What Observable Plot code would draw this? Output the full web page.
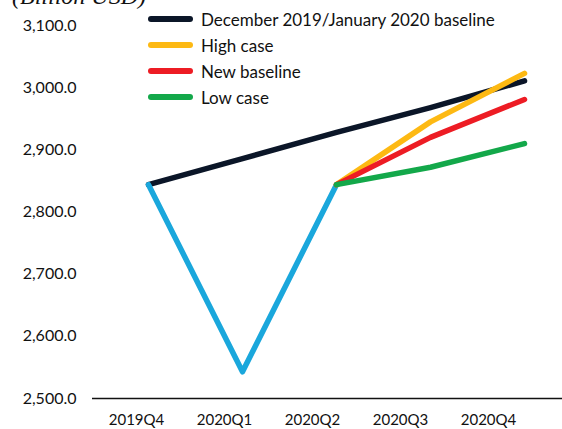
<!DOCTYPE html>
<html>
<head>
<meta charset="utf-8">
<script src="https://cdn.jsdelivr.net/npm/d3@7"></script>
<script src="https://cdn.jsdelivr.net/npm/@observablehq/plot@0.6"></script>
<style>
  html, body { margin: 0; padding: 0; background: #fff; }
  #wrap { position: relative; width: 562px; height: 429px; overflow: hidden; font-family: Lato, "Open Sans", sans-serif; }
  #title { position: absolute; left: 12px; top: -19px; font-family: "Liberation Serif", serif; font-style: italic; font-size: 24px; line-height: 30px; color: #111; white-space: nowrap; }
  #legend { position: absolute; left: 148px; top: 0; }
  .item { position: absolute; left: 0; height: 20px; display: flex; align-items: center; white-space: nowrap; font-size: 17px; color: #111; }
  .sw { display: inline-block; width: 45px; height: 6px; border-radius: 3px; margin-right: 8px; }
  .layer { position: absolute; left: 0; top: 0; }
</style>
</head>
<body>
<div id="wrap">
  <div id="axes" class="layer"></div>
  <div id="lines" class="layer"></div>
  <div id="title">(Billion USD)</div>
  <div id="legend"></div>
</div>
<script>
const quarters = ["2019Q4", "2020Q1", "2020Q2", "2020Q3", "2020Q4"];
const yTicks = [2500, 2600, 2700, 2800, 2900, 3000, 3100];

const actualQuarters = ["2019Q4", "2020Q1", "2020Q2"];
const actualValues = [2844, 2543, 2844];

const decBaselineValues = [2844, 2886, 2928, 2968, 3011];

const scenarioQuarters = ["2020Q2", "2020Q3", "2020Q4"];
const highValues = [2844, 2945, 3023];
const newBaselineValues = [2844, 2920, 2981];
const lowValues = [2844, 2872, 2910];

const seriesNames = ["December 2019/January 2020 baseline", "High case", "New baseline", "Low case"];
const seriesColors = ["#0b1628", "#fdb913", "#ed1c24", "#13a84a"];
const actualColor = "#1aa7dc";

const rows = (qs, vs, name) => qs.map((q, i) => ({quarter: q, value: vs[i], series: name}));

const decData = rows(quarters, decBaselineValues, seriesNames[0]);
const actualData = rows(actualQuarters, actualValues, "Actual");
const highData = rows(scenarioQuarters, highValues, seriesNames[1]);
const newData = rows(scenarioQuarters, newBaselineValues, seriesNames[2]);
const lowData = rows(scenarioQuarters, lowValues, seriesNames[3]);

const common = {
  width: 562,
  height: 429,
  marginLeft: 92,
  marginRight: 0,
  marginTop: 25,
  marginBottom: 31,
  style: { fontFamily: "Lato, 'Open Sans', sans-serif", color: "#111", background: "transparent" }
};

// Axis layer: category labels centred in bands as in the original
const axes = Plot.plot({
  ...common,
  x: { type: "point", domain: quarters, range: [136, 488], padding: 0, label: null },
  y: { domain: [2500, 3100], label: null },
  marks: [
    Plot.axisY({ ticks: yTicks, tickFormat: d3.format(",.1f"), tickSize: 0, tickPadding: 16, fontSize: 16, label: null }),
    Plot.axisX({ tickSize: 0, tickPadding: 16, fontSize: 15, label: null }),
    Plot.ruleY([2500], { stroke: "#111", strokeWidth: 1.6 })
  ]
});
axes.querySelectorAll("text").forEach(t => t.setAttribute("fill", "#111"));
document.getElementById("axes").appendChild(axes);

// Line layer
const sw = 5.5;
const lines = Plot.plot({
  ...common,
  x: { type: "point", domain: quarters, range: [146, 525], padding: 0, axis: null },
  y: { domain: [2500, 3100], axis: null },
  marks: [
    Plot.line(decData, { x: "quarter", y: "value", stroke: seriesColors[0], strokeWidth: sw }),
    Plot.line(actualData, { x: "quarter", y: "value", stroke: actualColor, strokeWidth: sw }),
    Plot.line(highData, { x: "quarter", y: "value", stroke: seriesColors[1], strokeWidth: sw }),
    Plot.line(newData, { x: "quarter", y: "value", stroke: seriesColors[2], strokeWidth: sw }),
    Plot.line(lowData, { x: "quarter", y: "value", stroke: seriesColors[3], strokeWidth: sw })
  ]
});
document.getElementById("lines").appendChild(lines);

const legend = document.getElementById("legend");
seriesNames.forEach((name, i) => {
  const item = document.createElement("div");
  item.className = "item";
  item.style.top = (9 + i * 26) + "px";
  const s = document.createElement("span");
  s.className = "sw";
  s.style.background = seriesColors[i];
  item.appendChild(s);
  item.appendChild(document.createTextNode(name));
  legend.appendChild(item);
});
</script>
</body>
</html>
